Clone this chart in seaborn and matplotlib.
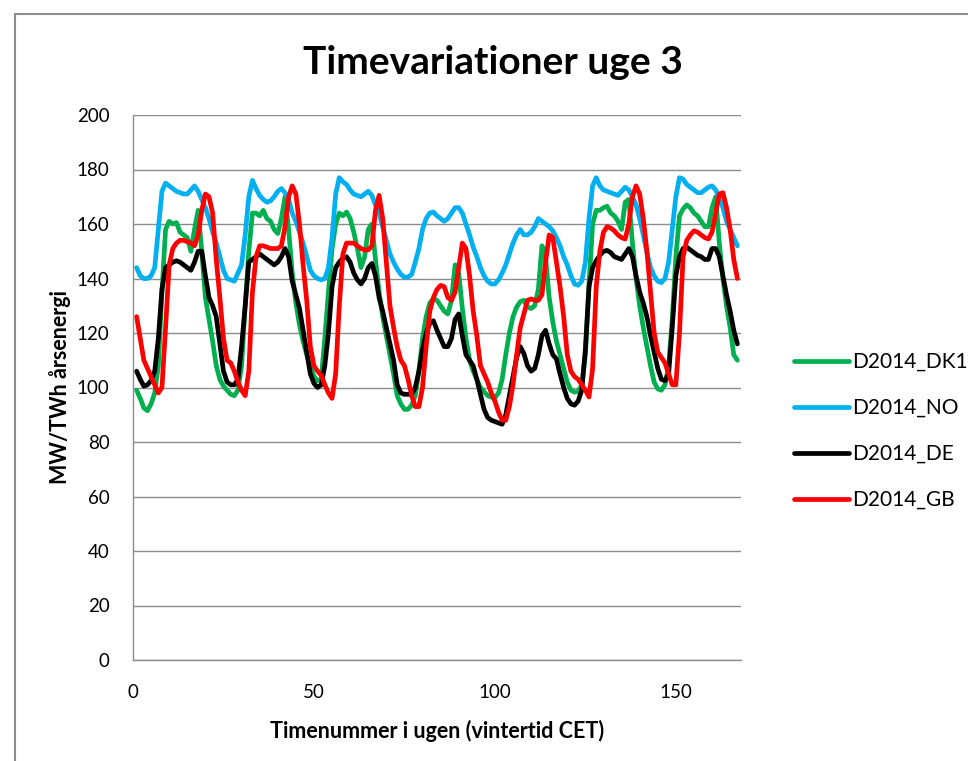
import matplotlib
matplotlib.use("Agg")
import matplotlib.pyplot as plt
from matplotlib.patches import Rectangle
import seaborn as sns
import pandas as pd

series_names = ["D2014_DK1", "D2014_NO", "D2014_DE", "D2014_GB"]
colors = ["#00B050", "#00B0F0", "#000000", "#FF0000"]

dk1 = [99, 96, 92.5, 91.5, 94, 98, 108, 135, 158, 161, 160, 160.5, 157, 156, 155, 150, 158, 165, 150, 133,
       125, 117, 108, 103, 100.5, 99, 97.5, 97, 99, 108, 130, 150, 164, 164, 163, 165, 162, 161, 158, 156.5,
       162, 170, 158, 142, 131, 123, 117, 112, 108, 104, 102.5, 103, 118, 135, 151, 160, 164, 163, 164.4, 162,
       157, 151, 144, 148, 158, 160, 147, 135, 126, 119, 112, 105, 97, 94, 92, 92, 93.5, 97, 106, 118,
       126, 131, 132.5, 132, 130, 128, 127, 132, 145, 142, 129, 118, 110, 106, 103, 100, 98.5, 97, 96.5, 96.3,
       98, 103, 112, 120, 126, 129.5, 131.5, 132, 129.5, 129, 130, 136, 152, 148, 133, 124, 117, 112, 107, 102,
       99, 98.3, 98.5, 101, 112, 138, 160, 165, 165, 166, 166.5, 164, 163, 161, 158, 168, 169, 153, 140, 130,
       122, 115, 108, 102, 99.5, 99, 101, 108, 125, 148, 163, 165.5, 167, 166, 164, 163, 161, 159, 159, 166,
       170, 153, 140, 130, 122, 112, 110]

no = [144, 141, 140, 140, 141, 144, 158, 172, 175, 174, 173, 172, 171.5, 171, 171, 172.5, 174, 172, 169, 166,
      162, 157, 153, 148, 143, 140, 139.5, 139, 142, 145, 156, 170, 176, 173, 170.5, 169, 168, 168.5, 170, 172,
      173, 171.5, 169, 164, 161, 157, 153, 148, 143, 141, 140, 139.5, 140, 144, 155, 171, 177, 175.5, 174.5, 172.5,
      171, 170.5, 170, 171, 172, 170.5, 167, 164, 159, 154, 149, 146, 143.5, 141.5, 140.5, 140.5, 141.5, 146, 151, 158,
      162, 164, 164.4, 163, 162, 161, 162, 164, 166, 166, 164, 160, 156, 151.5, 148, 144, 141, 139, 138, 138,
      139.5, 142, 145, 149, 153, 156, 158, 156, 156, 157, 159, 162, 161, 160, 159, 157.5, 155, 152, 148, 145,
      141, 138, 137.5, 139, 146, 162, 174, 177, 174, 172.5, 172, 171.5, 171, 170.5, 172, 173.5, 172.5, 170, 167, 162,
      156, 149.5, 144, 141, 139, 138.5, 140, 146, 158, 170, 177, 176.5, 174.5, 173.5, 172.5, 171.5, 171.5, 172.5, 173.5, 174,
      172.5, 170, 166, 161, 158, 155, 152]

de = [106, 103, 100.5, 101, 102.5, 106, 118, 136, 144, 145, 146, 146.5, 146, 145, 144, 143, 146, 150, 150, 141,
      133, 130, 126, 116, 106, 102, 101, 101, 103, 115, 130, 146, 147, 148, 149, 148, 147, 146, 145, 146,
      148, 151, 148, 139, 134, 129, 121, 113, 105, 101.5, 100, 101, 108, 120, 137, 144, 146, 147.5, 148, 146,
      142, 139.5, 138, 140, 144, 145.5, 141, 133, 128, 122, 116, 110, 101, 98, 97.5, 97.5, 97.5, 100, 106, 114,
      120, 123.5, 124.5, 121, 118, 115, 115, 118, 125, 127, 119, 112, 110, 108, 103, 97.5, 92, 89, 88, 87.5,
      87, 86.5, 90, 97, 104, 111, 115, 112.5, 108, 106, 107, 112, 119, 121, 116, 112, 110.5, 105, 100, 96,
      94, 93.5, 95, 99, 114, 137, 144, 146.5, 148.5, 150, 150.3, 149.5, 148, 147.5, 147, 149, 151, 148, 141, 135,
      131, 126, 119, 113, 107, 103, 102.5, 105, 122, 141, 148, 151, 151.5, 150.5, 149.5, 148.5, 148, 147, 147, 151,
      151, 148, 141, 134, 128, 121, 116]

gb = [126, 118, 110, 107, 104, 101, 98, 100, 122, 145, 151, 153, 154, 154, 153.5, 153, 152, 156, 165, 171,
      170, 164, 147, 133, 118, 110, 109, 106, 102, 99, 97, 106, 135, 148, 152, 152, 151.5, 151, 151, 151,
      152, 159, 170, 174, 171, 160, 145, 132, 115, 108, 106, 104.5, 101, 98, 96, 105, 130, 149, 153, 153,
      153, 152, 151, 150.5, 150.5, 152, 165, 170.5, 162, 146, 130, 122, 115, 110, 108, 103, 97, 93, 93, 100,
      115, 128, 133, 136, 137.5, 137, 133, 132, 135, 144, 153, 151, 141, 128, 119, 108, 105, 102, 98, 95,
      91, 88, 88, 93, 101, 112, 122, 127, 132, 132.5, 132, 132, 134, 146, 156, 155, 146, 137, 126, 112,
      106, 104, 103, 101, 99, 96.5, 107, 137, 150, 157, 159, 158.5, 157.5, 156, 155, 154.5, 160, 170, 174, 171,
      162, 150, 135, 120, 113, 111, 109, 105, 101, 101, 120, 148, 154, 156, 157.5, 157, 156, 155, 154.5, 157,
      164, 171, 171.5, 166, 158, 147, 140]

y_ticks = [0, 20, 40, 60, 80, 100, 120, 140, 160, 180, 200]
x_ticks = [0, 50, 100, 150]

frames = []
for name, vals in zip(series_names, [dk1, no, de, gb]):
    frames.append(pd.DataFrame({"hour": list(range(1, len(vals) + 1)), "value": vals, "series": name}))
df = pd.concat(frames, ignore_index=True)

sns.set_theme(style="white")
plt.rcParams["font.family"] = ["Lato", "DejaVu Sans"]
plt.rcParams["text.color"] = "black"
plt.rcParams["axes.labelcolor"] = "black"

fig = plt.figure(figsize=(9.68, 7.61), dpi=100)
fig.patch.set_facecolor("white")
# outer chart frame (top and left visible)
fig.patches.append(Rectangle((15 / 968, -0.05), 1.2, (761 - 14) / 761 + 0.05, transform=fig.transFigure,
                             fill=False, edgecolor="#8c8c8c", linewidth=1.5))

ax = fig.add_axes([133 / 968, (761 - 660) / 761, (741 - 133) / 968, (660 - 115) / 761])
sns.lineplot(data=df, x="hour", y="value", hue="series", hue_order=series_names,
             palette=dict(zip(series_names, colors)), linewidth=3.4, ax=ax, legend=True)

ax.set_xlim(0, 168)
ax.set_ylim(0, 200)
ax.set_xticks(x_ticks)
ax.set_yticks(y_ticks)
ax.tick_params(axis="both", labelsize=13.5, colors="#000000", length=5, width=1, direction="out")
ax.tick_params(axis="y", color="#8c8c8c", pad=12)
ax.tick_params(axis="x", color="#8c8c8c", pad=12)
ax.grid(axis="y", color="#8c8c8c", linewidth=1)
ax.grid(axis="x", visible=False)
for s in ["top", "right"]:
    ax.spines[s].set_visible(False)
for s in ["left", "bottom"]:
    ax.spines[s].set_color("#8c8c8c")
    ax.spines[s].set_linewidth(1)

ax.set_xlabel("Timenummer i ugen (vintertid CET)", fontsize=15.5, fontweight="bold", labelpad=14,
              color="black")
ax.set_ylabel("MW/TWh årsenergi", fontsize=15.5, fontweight="bold", labelpad=4, color="black")

fig.text(493 / 968, 1 - 62 / 761, "Timevariationer uge 3", ha="center", va="center",
         fontsize=28, fontweight="bold", color="black")

handles, labels = ax.get_legend_handles_labels()
leg = ax.legend(handles, labels, loc="center left", bbox_to_anchor=(786 / 968, 1 - 431 / 761),
                bbox_transform=fig.transFigure, frameon=False, fontsize=15, handlelength=2.6,
                handletextpad=0.15, labelspacing=1.25, borderaxespad=0)
for t in leg.get_texts():
    t.set_color("black")

fig.savefig("out.png", dpi=100, facecolor="white")
